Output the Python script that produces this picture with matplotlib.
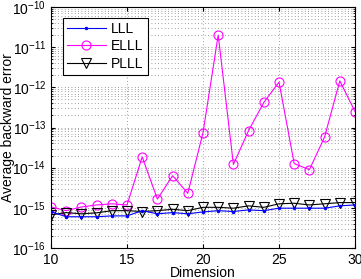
import matplotlib
matplotlib.use("Agg")
import matplotlib.pyplot as plt
import numpy as np

plt.rcParams['font.family'] = ['Liberation Sans', 'DejaVu Sans']
plt.rcParams['mathtext.fontset'] = 'custom'
plt.rcParams['mathtext.rm'] = 'Liberation Sans'

dims = list(range(10, 31))
lll = [8.0e-16, 6.0e-16, 6.0e-16, 6.0e-16, 6.3e-16, 6.3e-16, 8.5e-16, 7.1e-16, 7.6e-16, 7.1e-16,
       7.9e-16, 8.5e-16, 8.1e-16, 8.9e-16, 8.5e-16, 9.8e-16, 9.8e-16, 9.8e-16, 9.8e-16, 1.12e-15, 1.18e-15]
elll = [1.05e-15, 8.5e-16, 1.05e-15, 1.18e-15, 1.26e-15, 1.18e-15, 1.85e-14, 1.65e-15, 6.3e-15, 2.3e-15,
        7.4e-14, 2.0e-11, 1.2e-14, 8.4e-14, 4.2e-13, 1.35e-12, 1.26e-14, 8.9e-15, 5.8e-14, 1.45e-12, 2.5e-13]
plll = [6.7e-16, 7.6e-16, 7.1e-16, 7.5e-16, 8.5e-16, 8.5e-16, 8.1e-16, 8.5e-16, 9.2e-16, 8.5e-16,
        1.03e-15, 1.03e-15, 9.8e-16, 1.12e-15, 1.03e-15, 1.26e-15, 1.3e-15, 1.18e-15, 1.26e-15, 1.35e-15, 1.35e-15]
xticks = [10, 15, 20, 25, 30]

fig = plt.figure(figsize=(3.61, 2.79), dpi=100)
ax = fig.add_axes([51/361, 1 - 248/279, (355-51)/361, (248-7)/279])

ax.semilogy(dims, lll, color='#0000ff', lw=0.8, marker='.', ms=3, label='LLL', zorder=3)
ax.semilogy(dims, elll, color='#ff00ff', lw=0.8, marker='o', ms=6.5, mfc='none', mew=0.8, label='ELLL', zorder=2)
ax.semilogy(dims, plll, color='black', lw=0.8, marker='v', ms=6.5, mfc='none', mew=0.8, label='PLLL', zorder=2.5)

ax.set_xlim(10, 30)
ax.set_ylim(1e-16, 1e-10)
ax.set_xticks(xticks)
ax.set_yticks([10.0**k for k in range(-16, -9)])
ax.tick_params(direction='in', which='both', labelsize=10, top=True, right=True, length=3)
ax.tick_params(which='minor', length=1.5)
ax.grid(True, which='major', axis='x', color='gray', linestyle=(0, (1, 3)), lw=0.6)
ax.grid(True, which='both', axis='y', color='gray', linestyle=(0, (1, 3)), lw=0.6)
for s in ax.spines.values():
    s.set_linewidth(0.8)

ax.set_xlabel('Dimension', fontsize=10)
ax.xaxis.set_label_coords(0.5, -0.075)
ax.set_ylabel('Average backward error', fontsize=10)
ax.yaxis.set_label_coords(-0.12, 0.5)

leg = ax.legend(loc='upper left', fontsize=10, fancybox=False, edgecolor='black',
                framealpha=1, borderpad=0.3, labelspacing=0.25, handlelength=2.8,
                handletextpad=0.4, bbox_to_anchor=(0.015, 0.985))
leg.get_frame().set_linewidth(0.8)

fig.savefig('out.png', dpi=100)
